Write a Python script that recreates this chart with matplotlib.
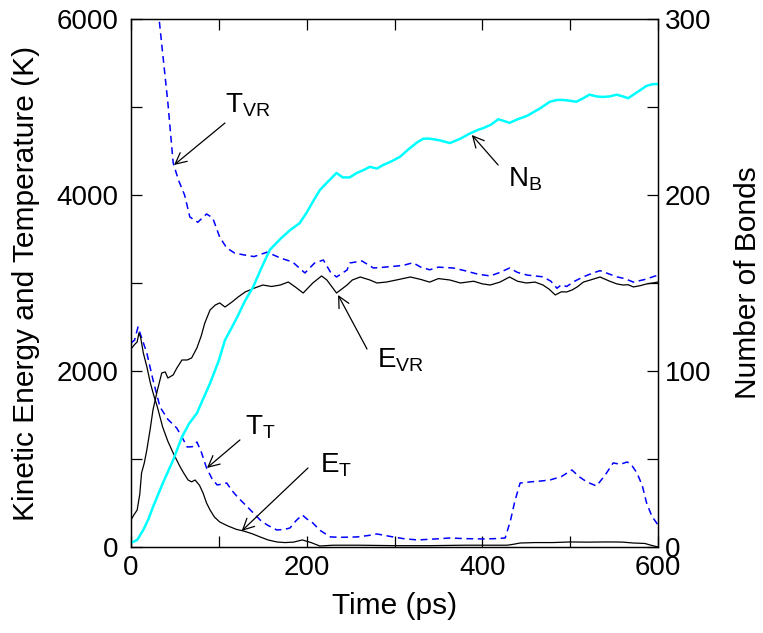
import matplotlib.pyplot as plt
from matplotlib.ticker import MultipleLocator

plt.rcParams['font.family'] = ['Liberation Sans', 'DejaVu Sans']
plt.rcParams['mathtext.fontset'] = 'custom'
plt.rcParams['mathtext.rm'] = 'Liberation Sans'

# T_VR (blue dashed, left axis)
t_tvr = [0, 10, 20, 28, 32, 36, 42, 48, 54, 61, 67, 76, 86, 93, 101, 109, 118, 128, 140,
         155, 170, 184, 198, 209, 219, 227, 234, 246, 249, 263, 276, 291, 300, 310,
         321, 330, 340, 350, 367, 380, 395, 409, 420, 431, 440, 451, 460, 469, 478, 485,
         490, 496, 505, 515, 525, 534, 545, 553, 562, 572, 585, 597, 600]
tvr = [9500, 8500, 7200, 6400, 6000, 5614, 5045, 4364, 4170, 4000, 3750, 3690, 3784, 3740,
       3520, 3398, 3340, 3320, 3300, 3350, 3284, 3238, 3114, 3227, 3261, 3125, 3068,
       3148, 3227, 3250, 3170, 3182, 3190, 3200, 3230, 3180, 3150, 3180, 3170, 3140, 3100,
       3080, 3120, 3170, 3120, 3090, 3080, 3070, 3020, 2940, 2980, 2960, 3020, 3070, 3110,
       3140, 3100, 3070, 3050, 3010, 3040, 3080, 3080]

# T_T (blue dashed, left axis)
t_tt = [0, 4, 8, 12, 18, 25, 33, 42, 52, 58, 64, 70, 75, 80, 86, 92, 98, 104, 109, 115,
        122, 128, 135, 147, 155, 166, 175, 181, 188, 195, 200, 207, 215, 227, 240, 257, 270,
        280, 295, 310, 326, 345, 363, 380, 401, 415, 426, 432, 437, 443, 455, 467, 477, 490,
        502, 510, 519, 530, 540, 549, 557, 565, 570, 576, 582, 587, 593, 600]
tt = [2318, 2350, 2500, 2380, 2205, 1900, 1591, 1450, 1352, 1250, 1136, 1140, 1193, 1080,
      898, 780, 705, 715, 727, 640, 560, 500, 430, 307, 250, 193, 200, 216, 300, 364, 320,
      273, 190, 114, 110, 114, 130, 148, 120, 95, 80, 90, 102, 95, 91, 95, 102, 300, 520,
      727, 740, 750, 761, 800, 875, 800, 739, 693, 820, 955, 940, 966, 930, 841, 700, 500,
      350, 250]

# E_VR (black solid, left axis)
t_evr = [0, 3, 7, 10, 12, 15, 18, 22, 25, 30, 35, 39, 42, 48, 52, 58, 64, 69, 75, 80, 84,
         90, 96, 101, 107, 115, 122, 130, 140, 150, 160, 170, 179, 187, 196, 207, 217,
         223, 234, 246, 252, 261, 272, 280, 291, 305, 318, 330, 340, 350, 363, 375, 390,
         400, 409, 420, 431, 440, 450, 460, 469, 476, 483, 490, 496, 502, 508, 515, 525,
         534, 545, 553, 560, 566, 572, 580, 587, 594, 600]
evr = [307, 360, 420, 600, 841, 950, 1102, 1350, 1557, 1780, 1977, 1989, 1920, 1955, 2030,
       2125, 2125, 2148, 2261, 2400, 2545, 2693, 2750, 2773, 2727, 2784, 2841, 2898, 2940,
       2977, 2960, 2977, 3011, 2955, 2886, 3000, 3080, 3034, 2886, 2977, 3034, 3068, 3034,
       3000, 3011, 3040, 3068, 3040, 3010, 3050, 3034, 3000, 3020, 2990, 2977, 3010, 3068,
       3020, 3000, 3010, 2977, 2930, 2864, 2900, 2898, 2920, 2955, 3010, 3040, 3068, 3020,
       2990, 2977, 2980, 2955, 2970, 2989, 3000, 3011]

# E_T (black solid, left axis)
t_et = [0, 4, 7, 9, 11, 14, 18, 22, 26, 30, 36, 42, 48, 56, 60, 65, 69, 73, 78, 82, 86,
        90, 95, 101, 110, 120, 128, 138, 147, 156, 166, 175, 185, 195, 205, 215, 230, 260,
        300, 340, 380, 420, 428, 435, 443, 460, 480, 500, 520, 540, 549, 560, 572, 585,
        592, 600]
et = [2250, 2300, 2330, 2432, 2380, 2205, 2050, 1864, 1720, 1591, 1364, 1200, 1068, 909,
      840, 761, 740, 761, 700, 614, 500, 420, 340, 284, 240, 200, 182, 150, 114, 80, 57,
      50, 55, 80, 50, 11, 20, 20, 15, 15, 20, 20, 20, 30, 45, 50, 50, 57, 55, 57, 57, 55,
      45, 40, 20, 0]

# N_B (cyan, right axis)
t_nb = [0, 7, 14, 20, 25, 36, 48, 58, 66, 75, 82, 90, 100, 107, 114, 121, 130, 139, 148,
        158, 170, 181, 192, 200, 208, 215, 225, 234, 241, 249, 257, 264, 272, 280, 287, 296,
        306, 316, 326, 333, 340, 352, 363, 375, 386, 395, 401, 410, 418, 425, 431, 440,
        451, 465, 477, 485, 492, 500, 507, 515, 522, 530, 537, 545, 553, 560, 566, 575,
        587, 594, 600]
nb = [2.3, 4, 9.7, 16, 22.7, 36, 49.4, 62.5, 70, 76, 84, 93, 106, 117.6, 124, 130.7, 140,
      147.7, 158, 168.8, 175, 180, 184, 190, 197, 202.8, 208, 212.5, 210, 210, 212.5, 214,
      216, 215, 217, 219, 221.6, 226, 230, 232, 232, 231, 229.5, 232, 235, 237, 238, 240,
      243, 242, 241, 243, 245, 249, 253, 254, 254, 253.5, 253, 255, 257, 256, 255.7, 256,
      257, 256, 255, 258, 262, 263, 263]

fig = plt.figure(figsize=(7.63, 6.33), dpi=100)
ax = fig.add_axes([0.1717, 0.1359, 0.6907, 0.8341])
ax2 = ax.twinx()

dash = (0, (4.5, 3))
ax.plot(t_tvr, tvr, color='blue', lw=1.1, linestyle=dash)
ax.plot(t_tt, tt, color='blue', lw=1.1, linestyle=dash)
ax.plot(t_evr, evr, color='black', lw=0.9)
ax.plot(t_et, et, color='black', lw=0.9)
ax2.plot(t_nb, nb, color='cyan', lw=1.8)

ax.set_xlim(0, 600)
ax.set_ylim(0, 6000)
ax2.set_ylim(0, 300)

ax.xaxis.set_major_locator(MultipleLocator(200))
ax.xaxis.set_minor_locator(MultipleLocator(100))
ax.yaxis.set_major_locator(MultipleLocator(2000))
ax.yaxis.set_minor_locator(MultipleLocator(1000))
ax2.yaxis.set_major_locator(MultipleLocator(100))
ax2.yaxis.set_minor_locator(MultipleLocator(50))

ax.tick_params(axis='x', which='both', direction='in', top=True, length=8, width=0.9,
               labelsize=20, pad=6)
ax.tick_params(axis='y', which='both', direction='in', length=8, width=0.9,
               labelsize=20, pad=9)
ax2.tick_params(axis='y', which='both', direction='in', length=8, width=0.9,
                labelsize=20, pad=5)
for a in (ax, ax2):
    for s in a.spines.values():
        s.set_linewidth(0.9)

ax.set_xlabel('Time (ps)', fontsize=21.5, labelpad=8)
ax.set_ylabel('Kinetic Energy and Temperature (K)', fontsize=21.5, labelpad=12)
ax2.set_ylabel('Number of Bonds', fontsize=21.5, labelpad=16)

# labels with arrows: (text, text pos, arrow tail, arrow head), in left-axis units
labels = [
    (r'$\mathregular{T_{VR}}$', (107, 4932), (107, 4818), (49, 4341)),
    (r'$\mathregular{N_{B}}$', (429, 4091), (418, 4341), (388, 4682)),
    (r'$\mathregular{E_{VR}}$', (280, 2034), (268.7, 2250), (235.7, 2864)),
    (r'$\mathregular{T_{T}}$', (130, 1273), (124, 1216), (86.5, 898)),
    (r'$\mathregular{E_{T}}$', (215, 841), (201.5, 898), (126, 182)),
]
for txt, pos, tail, head in labels:
    ax.text(pos[0], pos[1], txt, fontsize=20, ha='left', va='baseline')
    ax.annotate('', xy=head, xytext=tail,
                arrowprops=dict(arrowstyle='->', lw=0.9, color='black',
                                mutation_scale=20, shrinkA=0, shrinkB=0))

fig.savefig('out.png', dpi=100)
